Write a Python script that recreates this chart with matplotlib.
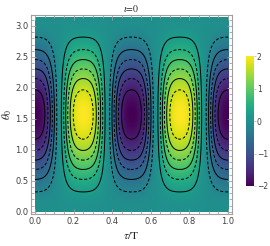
import matplotlib
matplotlib.use("Agg")
import matplotlib.pyplot as plt
import numpy as np
from matplotlib.ticker import MultipleLocator

plt.rcParams["mathtext.fontset"] = "stix"

# field: two periods in tau (slightly flattened peaks),
# sin^2 in theta, peak value 2
amplitude = 2.0
periods = 2
flatten = 0.5
tau = np.linspace(0.0, 1.0, 500)
theta = np.linspace(0.0, np.pi, 500)
T, TH = np.meshgrid(tau, theta)
c = -np.cos(2 * np.pi * periods * T)
smooth = np.sign(c) * (1 - np.cos(np.pi * np.abs(c))) / 2
Z = amplitude * ((1 - flatten) * c + flatten * smooth) * np.sin(TH) ** 2

solid_levels = [-1.7, -1.1, -0.5, 0.2, 0.8, 1.4]
dashed_levels = [-1.4, -0.8, -0.2, 0.5, 1.1, 1.7]
cbar_ticks = [-2, -1, 0, 1, 2]
x_ticks = [0.0, 0.2, 0.4, 0.6, 0.8, 1.0]
y_ticks = [0.0, 0.5, 1.0, 1.5, 2.0, 2.5, 3.0]

frame = "#a0a0a0"
txt = "#404040"

fig = plt.figure(figsize=(2.70, 2.46), dpi=100)
ax = fig.add_axes([0.115, 0.130, 0.744, 0.809])
cax = fig.add_axes([0.912, 0.244, 0.028, 0.528])

im = ax.imshow(Z, extent=[0, 1, 0, np.pi], origin="lower", aspect="auto",
               cmap="viridis", vmin=-2, vmax=2, interpolation="bilinear")
ax.contour(T, TH, Z, levels=solid_levels, colors="black",
           linewidths=0.7, linestyles="solid")
ax.contour(T, TH, Z, levels=dashed_levels, colors="black",
           linewidths=0.7, linestyles=[(0, (3, 2))])

ax.set_xlim(-0.02, 1.02)
ax.set_ylim(-0.035, np.pi + 0.035)
ax.set_xticks(x_ticks)
ax.set_xticklabels([f"{v:.1f}" for v in x_ticks])
ax.set_yticks(y_ticks)
ax.set_yticklabels([f"{v:.1f}" for v in y_ticks])
ax.xaxis.set_minor_locator(MultipleLocator(0.05))
ax.yaxis.set_minor_locator(MultipleLocator(0.1))
ax.tick_params(which="both", direction="in", top=True, right=True,
               color=frame, width=0.6, labelsize=6, labelcolor=txt, pad=2)
ax.tick_params(which="major", length=3.5)
ax.tick_params(which="minor", length=2)
for s in ax.spines.values():
    s.set_color(frame)
    s.set_linewidth(0.8)

ax.set_title(r"$\iota\!=\!0$", fontsize=7, pad=2, color="#222222")
ax.set_xlabel(r"$\tau/\mathrm{T}$", fontsize=8, color="#222222", labelpad=3)
ax.set_ylabel(r"$\theta_0$", fontsize=8, color="#222222", labelpad=1)

cb = fig.colorbar(im, cax=cax, ticks=cbar_ticks)
cb.outline.set_visible(False)
cb.ax.set_yticklabels(["\u22122", "\u22121", "0", "1", "2"])
cb.ax.tick_params(labelsize=5.5, labelcolor=txt, length=1.2, width=0.5,
                  color="#bbbbbb", pad=1)

fig.savefig("out.png", dpi=100)
